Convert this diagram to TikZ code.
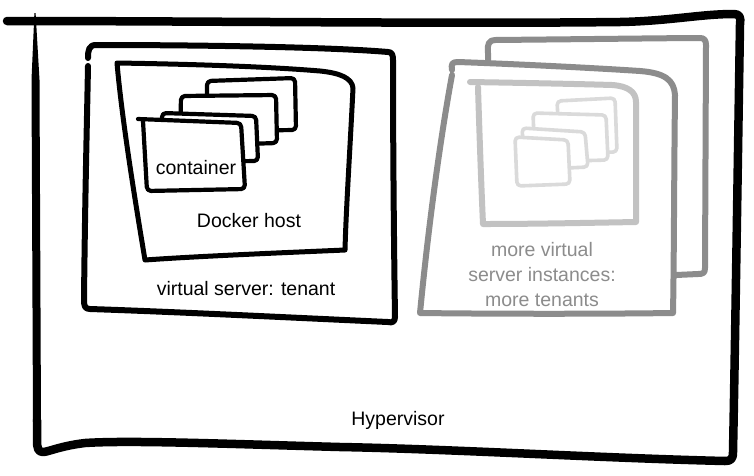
\documentclass[tikz,border=0pt]{standalone}
\usepackage{fontspec}
\setmainfont{Liberation Sans}
\definecolor{gvs}{HTML}{8C8C8C}
\definecolor{gdh}{HTML}{C2C2C2}
\definecolor{gct}{HTML}{DADADA}
\begin{document}
\begin{tikzpicture}[x=1pt,y=-1pt,line cap=round,line join=round,
  hyp/.style={line width=8.5pt,black},
  vsbox/.style={line width=6pt,black,fill=white},
  dhost/.style={line width=5pt,black},
  card/.style={line width=4.2pt,black,fill=white,rounded corners=4pt},
  gvsbox/.style={line width=6pt,draw=gvs,fill=white},
  gdhost/.style={line width=6pt,draw=gdh},
  gcard/.style={line width=3.6pt,draw=gct,fill=white,rounded corners=4pt},
  lbl/.style={inner sep=0pt,font=\fontsize{19.5}{25}\selectfont,text=black},
  glbl/.style={inner sep=0pt,font=\fontsize{19.5}{25}\selectfont,text=gvs,align=center}]
\useasboundingbox[fill=white] (0,0) rectangle (754,475);
% Hypervisor
\draw[hyp] (7,21) .. controls (200,21) and (450,24) .. (620,22)
  .. controls (670,21) and (700,14) .. (734,14)
  .. controls (740,14) and (741,18) .. (740,24)
  .. controls (738,150) and (735,350) .. (733,452)
  .. controls (733,459) and (731,461) .. (725,461)
  .. controls (600,458) and (450,449) .. (340,447)
  .. controls (230,444) and (130,440) .. (85,443)
  .. controls (60,446) and (48,452) .. (43,452)
  .. controls (38,452) and (37,448) .. (37,440) -- (37,420);
\fill (34.4,13) -- (35.6,13) -- (39.5,80) -- (41,422) -- (33,422) -- (31.5,80) -- cycle;
% virtual server (tenant)
\draw[vsbox] (88,58) .. controls (88,50) and (89,45) .. (96,45)
  .. controls (200,45) and (330,47) .. (388,52)
  .. controls (392,52) and (393,55) .. (393,60)
  .. controls (393,150) and (394,250) .. (395,317)
  .. controls (395,322) and (392,323) .. (388,322)
  .. controls (300,318) and (180,312) .. (90,309)
  .. controls (85,309) and (84,306) .. (84,300)
  .. controls (85,200) and (87,120) .. (88,66);
% Docker host
\draw[dhost] (117,63) .. controls (180,64) and (260,66) .. (320,71)
  .. controls (340,73) and (352,78) .. (353,88)
  .. controls (350,150) and (346,210) .. (345,250)
  .. controls (300,252) and (200,256) .. (145,260)
  .. controls (135,200) and (122,120) .. (117,63);
% containers
\draw[card] (207,131) -- (207,81) -- (295,78) -- (296,130) -- cycle;
\draw[card] (180,146) -- (181,96) -- (276,95) -- (277,143) -- cycle;
\draw[card] (162,162) -- (162,113) -- (256,116) -- (258,161) -- cycle;
\draw[card] (138,119) -- (241,123) -- (245,189) -- (147,191) -- (143,121);
% grey tenants
\draw[gvsbox] (488,53) .. controls (487,44) and (489,40) .. (495,40)
  .. controls (600,39) and (680,38) .. (700,38)
  .. controls (704,38) and (706,40) .. (706,45)
  -- (705,268) .. controls (705,273) and (703,274) .. (698,274) -- (676,275) -- (488,275) -- cycle;
\draw[gvsbox] (452,70) .. controls (451,64) and (452,62) .. (458,62)
  .. controls (540,65) and (610,69) .. (640,71)
  .. controls (665,73) and (674,80) .. (675,95)
  .. controls (674,180) and (674,260) .. (673,313)
  .. controls (600,314) and (500,314) .. (420,313)
  .. controls (428,230) and (440,140) .. (452,75);
\draw[gdhost] (470,82) .. controls (530,83) and (580,84) .. (612,85)
  .. controls (628,86) and (636,92) .. (636,102)
  .. controls (636,150) and (636,190) .. (636,222)
  .. controls (580,223) and (530,224) .. (483,224)
  .. controls (481,180) and (479,120) .. (478,87);
\draw[gcard] (560,153) -- (557,101) -- (615,98) -- (617,152) -- cycle;
\draw[gcard] (535,162) -- (533,113) -- (606,115) -- (608,160) -- cycle;
\draw[gcard] (525,170) -- (522,128) -- (585,132) -- (588,167) -- cycle;
\draw[gcard] (517,186) -- (515,137) -- (568,140) -- (570,184) -- cycle;
% labels
\node[lbl] (tcont) at (196,168) {container};
\node[lbl] (tdock) at (249,221) {Docker host};
\node[lbl] (tvs) at (246,289) {virtual server: tenant};
\node[lbl] (thyp) at (398,420) {Hypervisor};
\node[glbl] (tmore) at (542,275) {more virtual\\server instances:\\more tenants};
\end{tikzpicture}
\end{document}
